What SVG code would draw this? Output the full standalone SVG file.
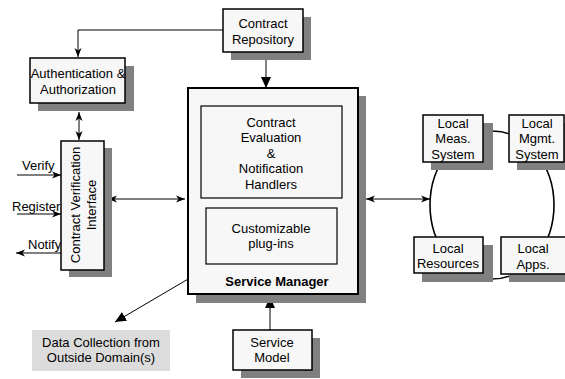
<svg xmlns="http://www.w3.org/2000/svg" width="565" height="379" viewBox="0 0 565 379">
<style>
.box{fill:#f7f7f7;stroke:#000;stroke-width:1.5}
.inner{fill:#f7f7f7;stroke:#000;stroke-width:1.2}
.sh{fill:#808080}
.t{font-family:"Liberation Sans",Arial,sans-serif;font-size:13px;fill:#000;text-anchor:middle}
.tl{font-family:"Liberation Sans",Arial,sans-serif;font-size:13px;fill:#000}
.c{fill:none;stroke:#000;stroke-width:1}
</style>
<defs>
<marker id="a" markerUnits="userSpaceOnUse" markerWidth="10" markerHeight="8" refX="9" refY="4" orient="auto-start-reverse"><path d="M0,0.5 L9,4 L0,7.5 L2.5,4 z" fill="#000"/></marker>
<marker id="f" markerUnits="userSpaceOnUse" markerWidth="12" markerHeight="10" refX="11" refY="5" orient="auto"><path d="M0,0 L11,5 L0,10 z" fill="#000"/></marker>
</defs>
<rect width="565" height="379" fill="#fff"/>
<g id="connectors">
<polyline class="c" points="223,30 78,30 78,57" marker-end="url(#a)"/>
<line class="c" x1="266" y1="60" x2="266" y2="88" marker-end="url(#f)"/>
<line class="c" x1="79" y1="112" x2="79" y2="140" marker-start="url(#a)" marker-end="url(#a)"/>
<line class="c" x1="17" y1="175" x2="61" y2="175" marker-end="url(#a)"/>
<line class="c" x1="17" y1="214" x2="61" y2="214" marker-end="url(#a)"/>
<line class="c" x1="61" y1="253" x2="16" y2="253" marker-end="url(#a)"/>
<line class="c" x1="108" y1="199" x2="185" y2="199" marker-start="url(#a)" marker-end="url(#a)"/>
<line class="c" x1="366" y1="199" x2="430" y2="199" marker-start="url(#a)" marker-end="url(#a)"/>
<line class="c" x1="212" y1="265" x2="115" y2="322" marker-end="url(#f)"/>
<line class="c" x1="270" y1="330" x2="270" y2="297" marker-end="url(#f)"/>
<ellipse cx="492" cy="205" rx="62" ry="74" fill="none" stroke="#000" stroke-width="1.6"/>
</g>
<g id="contract-repository">
<rect class="sh" x="231" y="17" width="80" height="43"/>
<rect class="box" x="223" y="9" width="80" height="43"/>
<text class="t" x="263" y="28">Contract</text>
<text class="t" x="263" y="44">Repository</text>
</g>
<g id="auth">
<rect class="sh" x="38" y="66" width="96" height="45"/>
<rect class="box" x="30" y="58" width="95" height="45"/>
<text class="t" x="78" y="78">Authentication &amp;</text>
<text class="t" x="78" y="94">Authorization</text>
</g>
<g id="cvi">
<rect class="sh" x="69" y="148" width="43" height="129"/>
<rect class="box" x="61" y="141" width="43" height="129"/>
<text class="t" transform="translate(80,205) rotate(-90)">Contract Verification</text>
<text class="t" transform="translate(96,205) rotate(-90)">Interface</text>
</g>
<g id="labels">
<text class="tl" x="22" y="170">Verify</text>
<text class="tl" x="12" y="211">Register</text>
<text class="tl" x="28" y="249">Notify</text>
</g>
<g id="service-manager">
<rect class="sh" x="196" y="96" width="170" height="207"/>
<rect x="188" y="88" width="170" height="206" fill="#f7f7f7" stroke="#000" stroke-width="2"/>
<rect class="inner" x="201" y="106" width="141" height="92"/>
<text class="t" x="271" y="127">Contract</text>
<text class="t" x="271" y="142">Evaluation</text>
<text class="t" x="271" y="158">&amp;</text>
<text class="t" x="271" y="173">Notification</text>
<text class="t" x="271" y="189">Handlers</text>
<rect class="inner" x="206" y="208" width="131" height="56"/>
<text class="t" x="271" y="233">Customizable</text>
<text class="t" x="271" y="248">plug-ins</text>
<text class="t" x="277" y="286" font-weight="bold">Service Manager</text>
</g>
<g id="local-meas">
<rect class="sh" x="431" y="123" width="62" height="47"/>
<rect class="box" x="423" y="115" width="60" height="47"/>
<text class="t" x="453" y="128">Local</text>
<text class="t" x="453" y="143">Meas.</text>
<text class="t" x="453" y="159">System</text>
</g>
<g id="local-mgmt">
<rect class="sh" x="517" y="123" width="50" height="47"/>
<rect class="box" x="509" y="115" width="55" height="47"/>
<text class="t" x="537" y="128">Local</text>
<text class="t" x="537" y="143">Mgmt.</text>
<text class="t" x="537" y="159">System</text>
</g>
<g id="local-resources">
<rect class="sh" x="422" y="245" width="71" height="37"/>
<rect class="box" x="414" y="237" width="69" height="36"/>
<text class="t" x="448" y="253">Local</text>
<text class="t" x="448" y="268">Resources</text>
</g>
<g id="local-apps">
<rect class="sh" x="509" y="245" width="60" height="37"/>
<rect class="box" x="501" y="237" width="66" height="37"/>
<text class="t" x="533" y="253">Local</text>
<text class="t" x="533" y="269">Apps.</text>
</g>
<g id="data-collection">
<rect x="32" y="330" width="138" height="41" fill="#dcdcdc"/>
<text class="t" x="101" y="347">Data Collection from</text>
<text class="t" x="101" y="362">Outside Domain(s)</text>
</g>
<g id="service-model">
<rect class="sh" x="241" y="338" width="79" height="40"/>
<rect class="box" x="233" y="330" width="79" height="40"/>
<text class="t" x="272" y="347">Service</text>
<text class="t" x="272" y="362">Model</text>
</g>
</svg>
